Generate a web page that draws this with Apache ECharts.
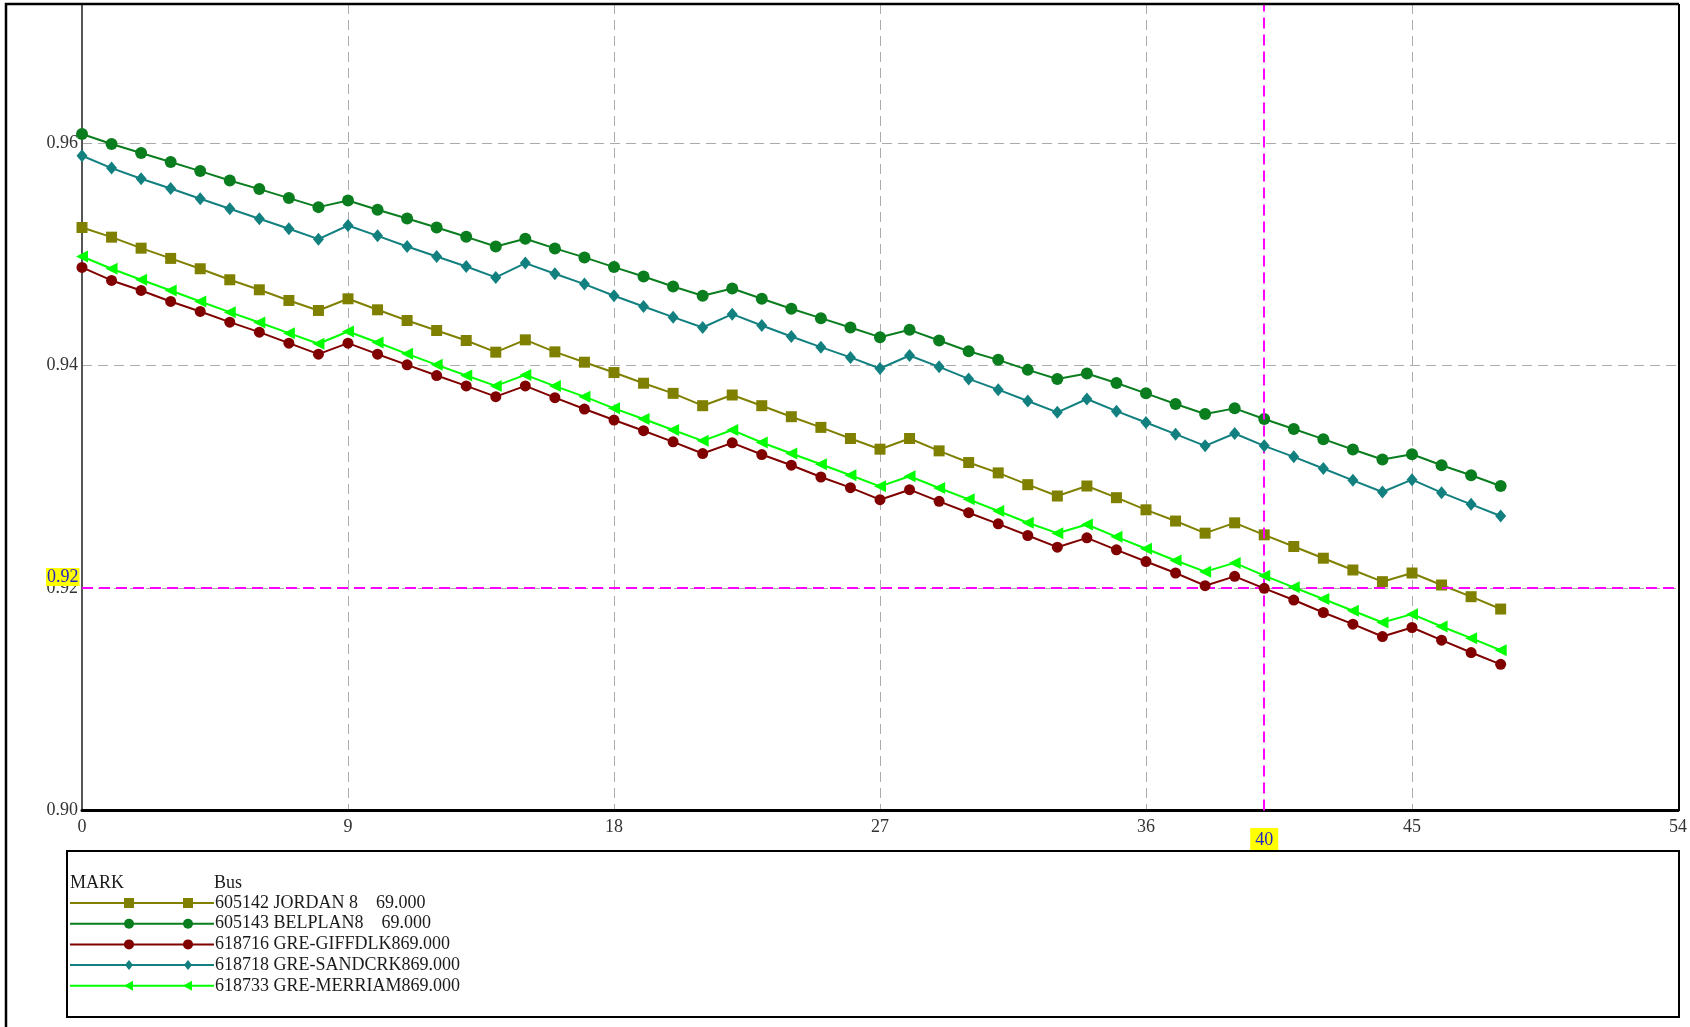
<!DOCTYPE html>
<html>
<head>
<meta charset="utf-8">
<script src="https://cdn.jsdelivr.net/npm/echarts@6/dist/echarts.min.js"></script>
<style>
html,body{margin:0;padding:0;background:#fff;}
#chart{width:1690px;height:1027px;}
</style>
</head>
<body>
<div id="chart"></div>
<script>
// ---------- data ----------
const xIndex = [0,1,2,3,4,5,6,7,8,9,10,11,12,13,14,15,16,17,18,19,20,21,22,23,24,25,26,27,28,29,30,31,32,33,34,35,36,37,38,39,40,41,42,43,44,45,46,47,48];

const busNames = [
  "605142 JORDAN 8    69.000",
  "605143 BELPLAN8    69.000",
  "618716 GRE-GIFFDLK869.000",
  "618718 GRE-SANDCRK869.000",
  "618733 GRE-MERRIAM869.000"
];

const jordan = [0.95241,0.95154,0.95055,0.94963,0.94870,0.94771,0.94681,0.94585,0.94495,0.94600,
  0.94501,0.94405,0.94315,0.94225,0.94120,0.94231,0.94123,0.94030,0.93937,0.93841,
  0.93750,0.93639,0.93735,0.93639,0.93540,0.93444,0.93344,0.93248,0.93344,0.93233,
  0.93128,0.93035,0.92929,0.92827,0.92917,0.92812,0.92703,0.92602,0.92493,0.92586,
  0.92478,0.92373,0.92268,0.92162,0.92057,0.92135,0.92027,0.91922,0.91811];

const belplan = [0.96081,0.95991,0.95910,0.95829,0.95748,0.95664,0.95586,0.95505,0.95424,0.95484,
  0.95400,0.95322,0.95241,0.95157,0.95070,0.95140,0.95053,0.94972,0.94885,0.94801,
  0.94711,0.94627,0.94693,0.94600,0.94510,0.94426,0.94342,0.94255,0.94321,0.94225,
  0.94128,0.94051,0.93961,0.93879,0.93928,0.93843,0.93750,0.93654,0.93564,0.93615,
  0.93519,0.93429,0.93338,0.93245,0.93155,0.93203,0.93104,0.93014,0.92917];

const giffdlk = [0.94882,0.94765,0.94675,0.94576,0.94486,0.94390,0.94300,0.94201,0.94102,0.94201,
  0.94102,0.94006,0.93910,0.93817,0.93720,0.93817,0.93711,0.93609,0.93510,0.93414,
  0.93314,0.93209,0.93305,0.93200,0.93104,0.92998,0.92902,0.92794,0.92884,0.92779,
  0.92677,0.92577,0.92472,0.92367,0.92451,0.92343,0.92238,0.92135,0.92021,0.92105,
  0.91997,0.91892,0.91780,0.91675,0.91564,0.91645,0.91531,0.91420,0.91314];

const sandcrk = [0.95886,0.95775,0.95679,0.95592,0.95499,0.95409,0.95319,0.95229,0.95136,0.95259,
  0.95166,0.95070,0.94980,0.94890,0.94792,0.94921,0.94825,0.94732,0.94627,0.94531,
  0.94435,0.94342,0.94462,0.94360,0.94261,0.94165,0.94073,0.93973,0.94090,0.93988,
  0.93880,0.93783,0.93681,0.93579,0.93699,0.93590,0.93488,0.93383,0.93278,0.93389,
  0.93278,0.93179,0.93074,0.92968,0.92863,0.92974,0.92857,0.92752,0.92647];

const merriam = [0.94980,0.94870,0.94771,0.94675,0.94576,0.94480,0.94387,0.94291,0.94196,0.94306,
  0.94207,0.94105,0.94006,0.93910,0.93817,0.93916,0.93815,0.93720,0.93615,0.93519,
  0.93420,0.93323,0.93420,0.93308,0.93209,0.93113,0.93014,0.92914,0.93005,0.92899,
  0.92797,0.92692,0.92587,0.92493,0.92571,0.92460,0.92353,0.92247,0.92147,0.92226,
  0.92111,0.92006,0.91901,0.91796,0.91690,0.91765,0.91654,0.91549,0.91441];

const xTicks = [0, 9, 18, 27, 36, 45, 54];
const yTicks = [0.90, 0.92, 0.94, 0.96];
const markerX = [40];
const markerY = [0.92];
const legendHeader = ["MARK", "Bus"];

// ---------- styles ----------
const seriesValues = [jordan, belplan, giffdlk, sandcrk, merriam];
const colors = ['#808000', '#0a7d1e', '#800000', '#138080', '#00ff00'];
const symbols = ['rect', 'circle', 'circle', 'diamond', 'triangle'];
const symbolSizes = [11, 12, 11, [11, 13], 12];
const symbolRotates = [0, 0, 0, 0, 90];
const SERIF = 'Liberation Serif';

const series = seriesValues.map((vals, i) => ({
  name: busNames[i],
  type: 'line',
  data: xIndex.map((x, k) => [x, vals[k]]),
  symbol: symbols[i],
  symbolSize: symbolSizes[i],
  symbolRotate: symbolRotates[i],
  showAllSymbol: true,
  lineStyle: { color: colors[i], width: 2 },
  itemStyle: { color: colors[i], borderWidth: 0 },
  z: 3 + i,
  animation: false
}));

series[0].markLine = {
  silent: true,
  symbol: 'none',
  animation: false,
  lineStyle: { color: '#ff00ff', type: [11, 6], width: 2 },
  label: { show: false },
  data: [{ xAxis: markerX[0] }, { yAxis: markerY[0] }]
};
series[0].markPoint = {
  silent: true,
  animation: false,
  symbol: 'rect',
  symbolSize: 1,
  itemStyle: { color: 'rgba(0,0,0,0)' },
  label: {
    show: true,
    formatter: p => String(p.value),
    color: '#2323c8',
    backgroundColor: '#ffff00',
    fontFamily: SERIF,
    fontSize: 18,
    padding: [0, 1]
  },
  data: [
    { coord: [xTicks[0], markerY[0]], value: markerY[0], label: { position: 'left', distance: 2, offset: [0, -11] } },
    { coord: [markerX[0], yTicks[0]], value: markerX[0], label: { position: 'bottom', distance: 17, padding: [3, 5] } }
  ]
};

// ---------- legend and frame (drawn as graphic) ----------
const legendLeft = 70, legendLineEnd = 214, markerPos = [129, 188];
const rowY0 = 903, rowStep = 20.7;
const legendGraphics = [
  { type: 'rect', z: 100, shape: { x: 67, y: 851, width: 1612, height: 166 }, style: { fill: 'none', stroke: '#000', lineWidth: 2 } },
  { type: 'text', z: 100, x: legendLeft, y: 883, style: { text: legendHeader[0], font: '18px "' + SERIF + '"', fill: '#1a1a1a', verticalAlign: 'middle' } },
  { type: 'text', z: 100, x: legendLineEnd, y: 883, style: { text: legendHeader[1], font: '18px "' + SERIF + '"', fill: '#1a1a1a', verticalAlign: 'middle' } },
  // outer frame (top + left) and plot right border
  { type: 'polyline', z: 100, shape: { points: [[6, 1040], [6, 4], [1679, 4]] }, style: { stroke: '#000', lineWidth: 2.5, fill: 'none' } },
  { type: 'line', z: 100, shape: { x1: 1679, y1: 4, x2: 1679, y2: 811 }, style: { stroke: '#000', lineWidth: 2 } }
];
function markerShape(kind, cx, cy, color) {
  if (kind === 'rect') return { type: 'rect', z: 101, shape: { x: cx - 5, y: cy - 5, width: 10, height: 10 }, style: { fill: color } };
  if (kind === 'circle') return { type: 'circle', z: 101, shape: { cx: cx, cy: cy, r: 5 }, style: { fill: color } };
  if (kind === 'diamond') return { type: 'polygon', z: 101, shape: { points: [[cx, cy - 5], [cx + 4, cy], [cx, cy + 5], [cx - 4, cy]] }, style: { fill: color } };
  return { type: 'polygon', z: 101, shape: { points: [[cx - 5, cy], [cx + 4, cy - 5], [cx + 4, cy + 5]] }, style: { fill: color } };
}
busNames.forEach((name, i) => {
  const y = rowY0 + i * rowStep;
  legendGraphics.push({ type: 'line', z: 100, shape: { x1: legendLeft, y1: y, x2: legendLineEnd, y2: y }, style: { stroke: colors[i], lineWidth: 2 } });
  markerPos.forEach(mx => legendGraphics.push(markerShape(symbols[i], mx, y, colors[i])));
  legendGraphics.push({ type: 'text', z: 100, x: legendLineEnd + 1, y: y, style: { text: name, font: '18px "' + SERIF + '"', fill: '#1a1a1a', verticalAlign: 'middle' } });
});

const chart = echarts.init(document.getElementById('chart'), null, { renderer: 'canvas' });
chart.setOption({
  animation: false,
  backgroundColor: '#ffffff',
  grid: { left: 82, right: 11, top: 4, bottom: 216.5 },
  xAxis: {
    type: 'value', min: xTicks[0], max: xTicks[xTicks.length - 1], interval: xTicks[1] - xTicks[0],
    axisLine: { show: true, onZero: false, lineStyle: { color: '#000', width: 3 } },
    axisTick: { show: false },
    axisLabel: { fontFamily: SERIF, fontSize: 18, color: '#333', margin: 8 },
    splitLine: { show: true, lineStyle: { color: '#ababab', type: [10, 6], width: 1 } }
  },
  yAxis: {
    type: 'value', min: yTicks[0], max: 0.9725, interval: yTicks[1] - yTicks[0],
    axisLine: { show: true, onZero: false, lineStyle: { color: '#555', width: 2 } },
    axisTick: { show: false },
    axisLabel: { fontFamily: SERIF, fontSize: 18, color: '#333', margin: 4, showMaxLabel: false, formatter: v => v.toFixed(2) },
    splitLine: { show: true, lineStyle: { color: '#ababab', type: [10, 6], width: 1 } }
  },
  series: series,
  graphic: legendGraphics
});
</script>
</body>
</html>
